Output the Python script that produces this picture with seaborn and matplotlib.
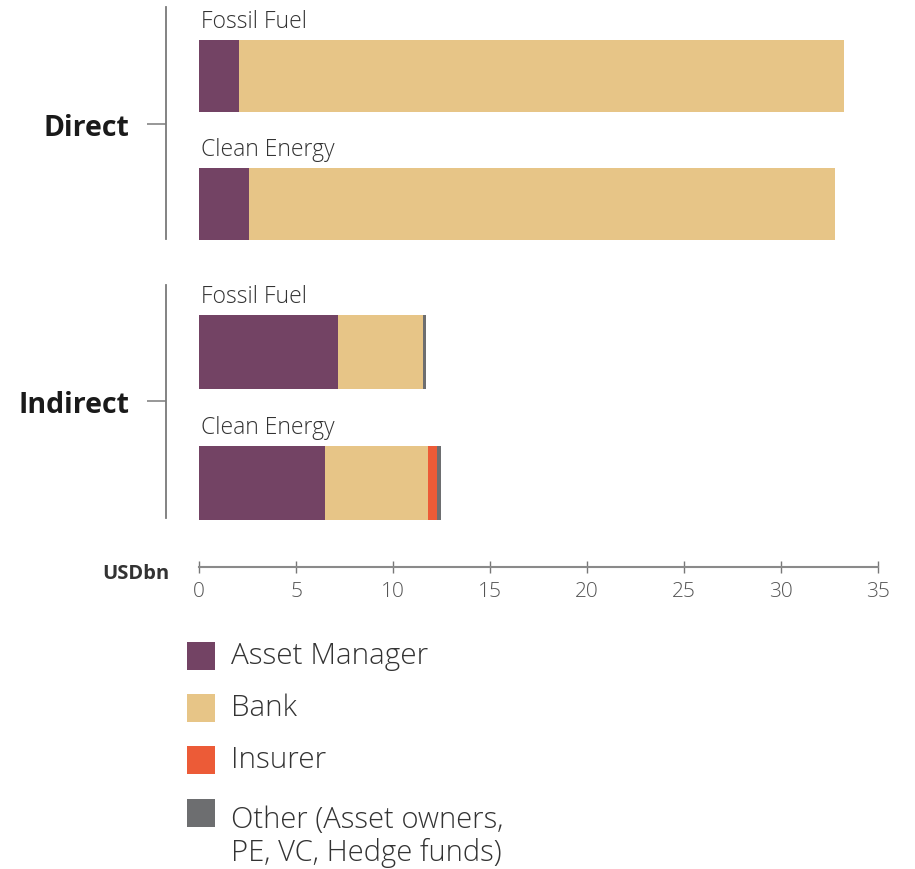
import matplotlib
matplotlib.use('Agg')
import matplotlib.pyplot as plt
from matplotlib.patches import Rectangle
import pandas as pd
import seaborn as sns

#######################################################################################################################
# DATA #
#######################################################################################################################

Groups = ['Direct', 'Indirect']
Categories = ['Fossil Fuel', 'Clean Energy']

Asset_Manager = {'Direct': [2.05, 2.6], 'Indirect': [7.15, 6.5]}
Bank = {'Direct': [31.2, 30.2], 'Indirect': [4.4, 5.3]}
Insurer = {'Direct': [0.0, 0.0], 'Indirect': [0.0, 0.45]}
Other = {'Direct': [0.0, 0.0], 'Indirect': [0.14, 0.22]}

Series_Names = ['Asset Manager', 'Bank', 'Insurer', 'Other (Asset owners,\nPE, VC, Hedge funds)']
Series_Colors = ['#734364', '#E7C587', '#EC5B37', '#6D6E70']
X_Ticks = [0, 5, 10, 15, 20, 25, 30, 35]

#######################################################################################################################
# STYLE #
#######################################################################################################################

sns.set_style('white')
plt.rcParams['font.family'] = ['Open Sans', 'DejaVu Sans']

W, H = 915, 870
Fig = plt.figure(figsize=(W / 100, H / 100), dpi=100)

# axes rectangles in pixel terms: (top px, bottom px, ylim)
Layout = {'Direct': (0, 269, (1.5, -0.6)), 'Indirect': (281, 549.5, (1.5, -0.55))}
Spine_Bounds = {'Direct': (-0.54, 1.27), 'Indirect': (-0.51, 1.27)}
X0, X1 = 199, 878

for Group in Groups:
    Top, Bottom, Y_Lim = Layout[Group]
    Axis = Fig.add_axes([X0 / W, 1 - Bottom / H, (X1 - X0) / W, (Bottom - Top) / H])

    Frame = pd.DataFrame({'Category': Categories,
                          'Asset Manager': Asset_Manager[Group],
                          'Bank': Bank[Group],
                          'Insurer': Insurer[Group],
                          'Other': Other[Group]})
    Stack = Frame[['Asset Manager', 'Bank', 'Insurer', 'Other']].cumsum(axis=1)

    # draw back to front so each cumulative layer shows only its own segment
    for Column, Color in reversed(list(zip(Stack.columns, Series_Colors))):
        sns.barplot(x=Stack[Column], y=Frame['Category'], orient='h', color=Color, saturation=1,
                    width=0.5625, linewidth=0, ax=Axis)

    for Index, Category in enumerate(Categories):
        Axis.text(0.1, Index - 0.385, Category, fontsize=16.5, color='#333333', va='baseline', ha='left',
                  fontweight='light')

    Axis.set_xlim(0, 35)
    Axis.set_ylim(*Y_Lim)
    Axis.set_xlabel('')
    Axis.set_ylabel('')

    for Side in ['top', 'right']:
        Axis.spines[Side].set_visible(False)
    Axis.spines['left'].set_position(('outward', 24))
    Axis.spines['left'].set_bounds(*Spine_Bounds[Group])
    Axis.spines['left'].set_color('#7a7a7a')
    Axis.spines['left'].set_linewidth(1.3)

    Axis.set_yticks([0.375])
    Axis.set_yticklabels([Group], fontsize=20.5, fontweight='bold', color='#1a1a1a')
    Axis.tick_params(axis='y', length=14, width=1.1, color='#7a7a7a', pad=12, left=True)

    if Group == 'Indirect':
        Axis.spines['bottom'].set_position(('outward', 13))
        Axis.spines['bottom'].set_color('#8a8a8a')
        Axis.spines['bottom'].set_linewidth(1.5)
        Axis.set_xticks(X_Ticks)
        Axis.set_xticklabels([str(T) for T in X_Ticks], fontsize=15, color='#555555', fontweight='light')
        Axis.tick_params(axis='x', direction='inout', length=9, width=1, color='#777777', pad=6, bottom=True)
    else:
        Axis.spines['bottom'].set_visible(False)
        Axis.set_xticks([])

Fig.text(170 / W, 1 - 574 / H, 'USDbn', fontsize=14.5, fontweight='bold', color='#333333', ha='right', va='center')

#######################################################################################################################
# LEGEND #
#######################################################################################################################

Legend_Centers = [657, 709, 761, 814]
for Name, Color, Center in zip(Series_Names, Series_Colors, Legend_Centers):
    Fig.add_artist(Rectangle((187 / W, 1 - (Center + 14) / H), 28 / W, 28 / H, transform=Fig.transFigure,
                             facecolor=Color, edgecolor='none'))
    if '\n' in Name:
        Fig.text(231 / W, 1 - (Center - 8) / H, Name, fontsize=21, color='#333333', ha='left', va='top',
                 fontweight='light', linespacing=1.12)
    else:
        Fig.text(231 / W, 1 - (Center - 1) / H, Name, fontsize=21.3, color='#333333', ha='left', va='center',
                 fontweight='light')

Fig.savefig('out.png', dpi=100)
